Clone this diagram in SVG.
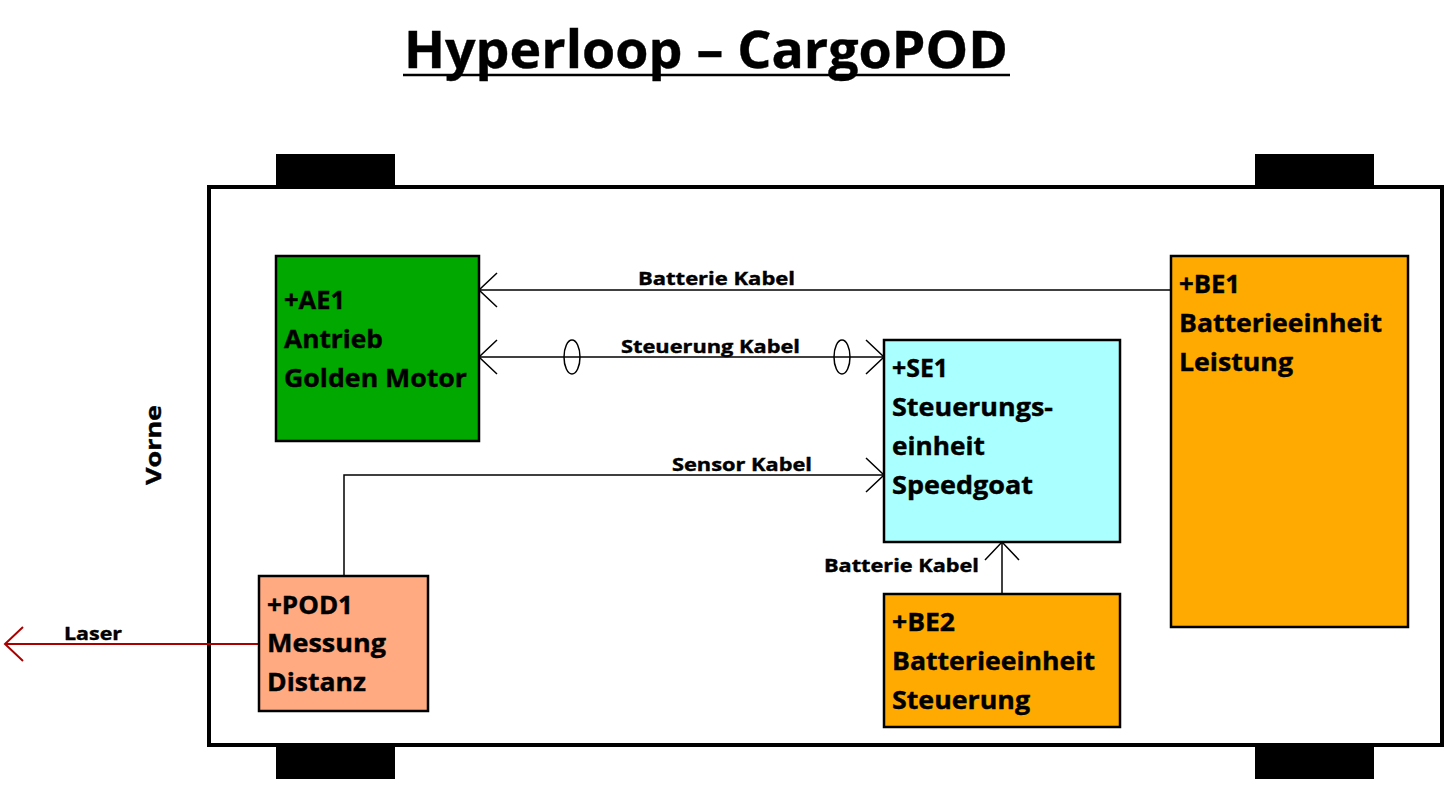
<svg xmlns="http://www.w3.org/2000/svg" width="1450" height="796" viewBox="0 0 1450 796">
<style>
text{font-family:"Open Sans","Noto Sans","DejaVu Sans",sans-serif;font-weight:bold;fill:#000;stroke:#000;stroke-width:0.4}
.node{stroke:#000;stroke-width:2.5}
.nt{font-size:25px}
.lbl{font-size:18px}
.wire{fill:none;stroke:#000;stroke-width:1.5}
</style>
<defs>
<marker id="arr" viewBox="-20 -19 22 38" refX="0" refY="0" markerWidth="22" markerHeight="38" markerUnits="userSpaceOnUse" orient="auto-start-reverse">
<path d="M-18,-17 L0,0 L-18,17" fill="none" stroke="#000" stroke-width="1.5"/>
</marker>
<marker id="arrR" viewBox="-20 -19 22 38" refX="0" refY="0" markerWidth="22" markerHeight="38" markerUnits="userSpaceOnUse" orient="auto-start-reverse">
<path d="M-18,-17 L0,0 L-18,17" fill="none" stroke="#AA0000" stroke-width="2"/>
</marker>
</defs>
<rect width="1450" height="796" fill="#fff"/>
<g id="title">
<text x="706" y="68" font-size="52" text-anchor="middle" textLength="604" lengthAdjust="spacingAndGlyphs">Hyperloop – CargoPOD</text>
<line x1="403" y1="75" x2="1010" y2="75" stroke="#000" stroke-width="2.5"/>
</g>
<g id="pod-body">
<rect x="276" y="154" width="119" height="34" fill="#000"/>
<rect x="1255" y="154" width="119" height="34" fill="#000"/>
<rect x="276" y="744" width="119" height="35" fill="#000"/>
<rect x="1255" y="744" width="119" height="35" fill="#000"/>
<rect x="209" y="187" width="1233" height="558" fill="#fff" stroke="#000" stroke-width="4"/>
<text transform="translate(161,445) rotate(-90)" font-size="22" text-anchor="middle" textLength="80" lengthAdjust="spacingAndGlyphs">Vorne</text>
</g>
<g id="connectors">
<line class="wire" x1="1171" y1="290" x2="479" y2="290" marker-end="url(#arr)"/>
<text class="lbl" x="638" y="285" textLength="157" lengthAdjust="spacingAndGlyphs">Batterie Kabel</text>
<line class="wire" x1="479" y1="357" x2="884" y2="357" marker-start="url(#arr)" marker-end="url(#arr)"/>
<ellipse cx="572" cy="357" rx="8" ry="17" fill="none" stroke="#000" stroke-width="1.5"/>
<ellipse cx="842" cy="357" rx="8" ry="17" fill="none" stroke="#000" stroke-width="1.5"/>
<text class="lbl" x="621" y="353" textLength="179" lengthAdjust="spacingAndGlyphs">Steuerung Kabel</text>
<polyline class="wire" points="344,576 344,475 884,475" marker-end="url(#arr)"/>
<text class="lbl" x="672" y="471" textLength="140" lengthAdjust="spacingAndGlyphs">Sensor Kabel</text>
<line class="wire" x1="1002" y1="594" x2="1002" y2="542" marker-end="url(#arr)"/>
<text class="lbl" x="824" y="572" textLength="155" lengthAdjust="spacingAndGlyphs">Batterie Kabel</text>
<line x1="259" y1="644" x2="5" y2="644" fill="none" stroke="#AA0000" stroke-width="2" marker-end="url(#arrR)"/>
<text class="lbl" x="64" y="640" textLength="58" lengthAdjust="spacingAndGlyphs">Laser</text>
</g>
<g id="AE1">
<rect class="node" x="276" y="256" width="203" height="185" fill="#00A800"/>
<text class="nt" x="284" y="309" textLength="61" lengthAdjust="spacingAndGlyphs">+AE1</text>
<text class="nt" x="284" y="348" textLength="99" lengthAdjust="spacingAndGlyphs">Antrieb</text>
<text class="nt" x="284" y="387" textLength="183" lengthAdjust="spacingAndGlyphs">Golden Motor</text>
</g>
<g id="BE1">
<rect class="node" x="1171" y="256" width="237" height="371" fill="#FFAA00"/>
<text class="nt" x="1179" y="293" textLength="61" lengthAdjust="spacingAndGlyphs">+BE1</text>
<text class="nt" x="1179" y="332" textLength="203" lengthAdjust="spacingAndGlyphs">Batterieeinheit</text>
<text class="nt" x="1179" y="371" textLength="114" lengthAdjust="spacingAndGlyphs">Leistung</text>
</g>
<g id="SE1">
<rect class="node" x="884" y="340" width="236" height="202" fill="#AAFFFF"/>
<text class="nt" x="892" y="377" textLength="56" lengthAdjust="spacingAndGlyphs">+SE1</text>
<text class="nt" x="892" y="416" textLength="161" lengthAdjust="spacingAndGlyphs">Steuerungs-</text>
<text class="nt" x="892" y="455" textLength="93" lengthAdjust="spacingAndGlyphs">einheit</text>
<text class="nt" x="892" y="494" textLength="141" lengthAdjust="spacingAndGlyphs">Speedgoat</text>
</g>
<g id="BE2">
<rect class="node" x="884" y="594" width="236" height="133" fill="#FFAA00"/>
<text class="nt" x="892" y="631" textLength="63" lengthAdjust="spacingAndGlyphs">+BE2</text>
<text class="nt" x="892" y="670" textLength="203" lengthAdjust="spacingAndGlyphs">Batterieeinheit</text>
<text class="nt" x="892" y="709" textLength="138" lengthAdjust="spacingAndGlyphs">Steuerung</text>
</g>
<g id="POD1">
<rect class="node" x="259" y="576" width="169" height="135" fill="#FFAA80"/>
<text class="nt" x="267" y="614" textLength="86" lengthAdjust="spacingAndGlyphs">+POD1</text>
<text class="nt" x="267" y="652" textLength="119" lengthAdjust="spacingAndGlyphs">Messung</text>
<text class="nt" x="267" y="691" textLength="99" lengthAdjust="spacingAndGlyphs">Distanz</text>
</g>
</svg>
